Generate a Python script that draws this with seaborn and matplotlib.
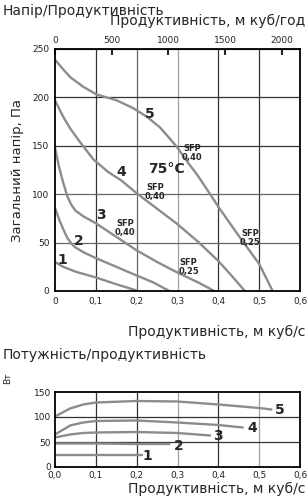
import numpy as np
import pandas as pd
import matplotlib
matplotlib.use("Agg")
import matplotlib.pyplot as plt
import seaborn as sns

# pressure / flow curves (m3/s, Pa)
q1 = [0.0, 0.02, 0.05, 0.1, 0.15, 0.2]
p1 = [30, 25, 20, 14, 7, 0.5]
q2 = [0.0, 0.01, 0.02, 0.03, 0.04, 0.05, 0.07, 0.1, 0.15, 0.2, 0.24, 0.28]
p2 = [86, 74, 64, 55, 49, 45, 40, 34, 25, 16, 9, 0]
q3 = [0.0, 0.01, 0.02, 0.03, 0.04, 0.05, 0.07, 0.1, 0.15, 0.2, 0.25, 0.3, 0.35, 0.39]
p3 = [148, 128, 112, 98, 89, 83, 77, 70, 56, 42, 30, 19, 9, 0]
q4 = [0.0, 0.02, 0.037, 0.061, 0.094, 0.13, 0.163, 0.2, 0.25, 0.3, 0.35, 0.4, 0.43, 0.465]
p4 = [197, 180, 168, 154, 136, 123, 114, 101, 85, 69, 51, 31, 17, 0]
q5 = [0.0, 0.02, 0.037, 0.069, 0.102, 0.151, 0.191, 0.225, 0.257, 0.282, 0.3, 0.325,
      0.35, 0.38, 0.4, 0.45, 0.5, 0.533]
p5 = [239, 229, 221, 211, 203, 197, 189, 180, 169, 157, 148, 133,
      119, 100, 87, 57, 28, 0]

# power / flow curves (m3/s, W)
w_q1 = [0.0, 0.1, 0.212]
w_p1 = [25, 25, 25]
w_q2 = [0.0, 0.1, 0.2, 0.28]
w_p2 = [47, 47, 46, 46]
w_q3 = [0.0, 0.037, 0.069, 0.1, 0.2, 0.3, 0.38]
w_p3 = [59, 65, 68, 69, 70, 68, 63]
w_q4 = [0.0, 0.037, 0.069, 0.1, 0.2, 0.3, 0.4, 0.46]
w_p4 = [65, 83, 89, 92, 93, 89, 84, 79]
w_q5 = [0.0, 0.037, 0.069, 0.1, 0.2, 0.3, 0.4, 0.5, 0.53]
w_p5 = [101, 117, 125, 129, 132, 131, 125, 118, 115]

names = ["1", "2", "3", "4", "5"]
sfp_texts = ["SFP\n0,40", "SFP\n0,40", "SFP\n0,40", "SFP\n0,25", "SFP\n0,25"]
sfp_pos = [(0.335, 143), (0.245, 102), (0.171, 65), (0.327, 25), (0.478, 55)]
label_pos = [(0.018, 32), (0.058, 52), (0.113, 78), (0.163, 123), (0.233, 183)]
w_label_pos = [(0.226, 21), (0.304, 41), (0.4, 62), (0.482, 79), (0.551, 114)]

sns.set_style("white")
plt.rcParams["font.family"] = ["DejaVu Sans"]

curve_col = "#8c8c8c"
dark, mid, light = "#333333", "#666666", "#a0a0a0"
fig = plt.figure(figsize=(3.08, 5.0), dpi=100)

# top chart
ax = fig.add_axes([55/308, 1 - 291/500, 245/308, 242/500])
for x, c in zip([0.1, 0.2, 0.3, 0.4, 0.5], [dark, mid, light, dark, dark]):
    ax.axvline(x, color=c, lw=0.9, zorder=0)
for y, c in zip([50, 100, 150, 200], [mid, mid, dark, dark]):
    ax.axhline(y, color=c, lw=0.9, zorder=0)
for q, p in zip([q1, q2, q3, q4, q5], [p1, p2, p3, p4, p5]):
    sns.lineplot(x=q, y=p, ax=ax, color=curve_col, lw=1.7, sort=False)
ax.set_xlim(0, 0.6)
ax.set_ylim(0, 250)
ax.set_xticks(np.arange(0, 0.61, 0.1))
ax.set_xticklabels(["0", "0,1", "0,2", "0,3", "0,4", "0,5", "0,6"])
ax.set_yticks([0, 50, 100, 150, 200, 250])
ax.tick_params(labelsize=6.5, length=0, pad=4, colors="#222222")
for s in ax.spines.values():
    s.set_color("black")
    s.set_linewidth(1.3)
ax.set_ylabel("Загальний напір, Па", fontsize=9.5, labelpad=6)

top = ax.secondary_xaxis("top", functions=(lambda x: x * 3600, lambda x: x / 3600))
top.set_xticks([0, 500, 1000, 1500, 2000])
top.tick_params(labelsize=6.5, direction="in", length=4, width=1.5, pad=3)

for i, n in enumerate(names):
    ax.text(*label_pos[i], n, fontsize=10, fontweight="bold", ha="center", va="center")
for (x, y), t in zip(sfp_pos, sfp_texts):
    ax.text(x, y, t, fontsize=6, fontweight="bold", ha="center", va="center", linespacing=1.0)
ax.text(0.273, 126, "75°C", fontsize=10, fontweight="bold", ha="center", va="center")

fig.text(3/308, 1 - 4/500, "Напір/Продуктивність", fontsize=10, va="top", ha="left")
fig.text(305/308, 1 - 14/500, "Продуктивність, м куб/год", fontsize=10, va="top", ha="right")
fig.text(305/308, 1 - 332/500, "Продуктивність, м куб/с", fontsize=10, va="center", ha="right")

# bottom chart
bx = fig.add_axes([55/308, 1 - 467/500, 245/308, 75/500])
for x, c in zip([0.1, 0.2, 0.3, 0.4, 0.5], [dark, dark, light, dark, light]):
    bx.axvline(x, color=c, lw=0.9, zorder=0)
for y in [50, 100]:
    bx.axhline(y, color=dark, lw=0.9, zorder=0)
for q, p in zip([w_q1, w_q2, w_q3, w_q4, w_q5], [w_p1, w_p2, w_p3, w_p4, w_p5]):
    sns.lineplot(x=q, y=p, ax=bx, color=curve_col, lw=1.7, sort=False)
bx.set_xlim(0, 0.6)
bx.set_ylim(0, 150)
bx.set_xticks(np.arange(0, 0.61, 0.1))
bx.set_xticklabels(["0,0", "0,1", "0,2", "0,3", "0,4", "0,5", "0,6"])
bx.set_yticks([0, 50, 100, 150])
bx.tick_params(labelsize=6.5, length=0, pad=3, colors="#222222")
for s in bx.spines.values():
    s.set_color("black")
    s.set_linewidth(1.3)
for i, n in enumerate(names):
    bx.text(*w_label_pos[i], n, fontsize=10, fontweight="bold", ha="center", va="center")

fig.text(3/308, 1 - 355/500, "Потужність/продуктивність", fontsize=10, va="center", ha="left")
fig.text(8/308, 1 - 378/500, "Вт", fontsize=6.5, va="center", ha="center", rotation=90)
fig.text(305/308, 1 - 489/500, "Продуктивність, м куб/с", fontsize=10, va="center", ha="right")

fig.savefig("out.png", dpi=100)
